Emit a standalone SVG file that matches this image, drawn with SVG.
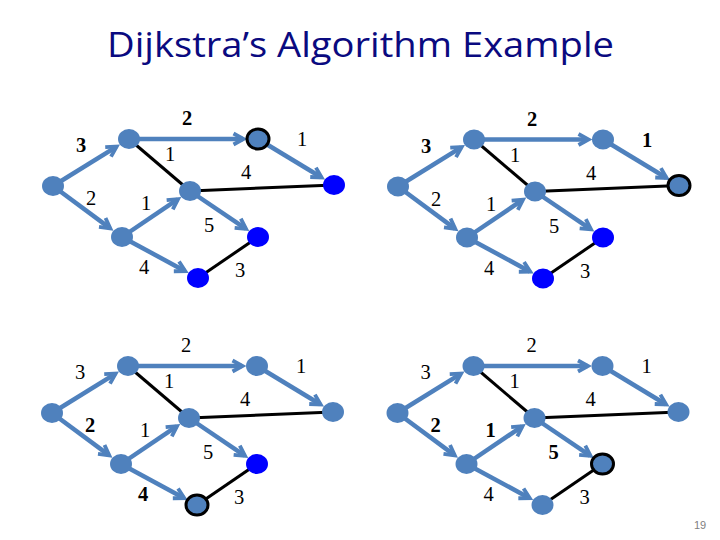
<svg xmlns="http://www.w3.org/2000/svg" width="720" height="540" viewBox="0 0 720 540">
<style>
.e{stroke:#4F81BD;stroke-width:4.5;fill:none;marker-end:url(#ah)}
.k{stroke:#000;stroke-width:3;fill:none}
.n{fill:#4F81BD}
.b{fill:#0000FF}
.o{stroke:#000;stroke-width:3}
.t{font-family:"Liberation Serif","Times New Roman",serif;font-size:20.5px;text-anchor:middle;fill:#000}
.bd{font-weight:bold}
.title{font-family:"Open Sans","Liberation Sans",sans-serif;font-size:35px;fill:#0A0A80}
.pg{font-family:"Liberation Sans",sans-serif;font-size:11px;fill:#808080;text-anchor:middle}
</style>
<defs>
<marker id="ah" markerUnits="userSpaceOnUse" viewBox="0 0 18 18" markerWidth="18" markerHeight="18" refX="11.5" refY="9" orient="auto">
<path d="M2,3.5 L12,9 L2,14.5" fill="none" stroke="#4F81BD" stroke-width="3.8" stroke-linejoin="miter"/>
</marker>
<g id="edges">
<path class="e" d="M53,186 L116.2,146.9"/>
<path class="e" d="M53,186 L109.9,228.1"/>
<path class="e" d="M129,139 L243,139"/>
<path class="e" d="M258,139 L321.2,177.2"/>
<path class="e" d="M122,237 L177.6,199.4"/>
<path class="e" d="M122,237 L184.8,270.9"/>
<path class="e" d="M190,191 L245.6,228.6"/>
<path class="k" d="M129,139 L190,191"/>
<path class="k" d="M190,191 L334,185"/>
<path class="k" d="M198,278 L258,237"/>
</g>
</defs>
<text class="title" x="107" y="57" textLength="507" lengthAdjust="spacingAndGlyphs">Dijkstra’s Algorithm Example</text>

<g id="q1">
<g id="q1-connectors"><use href="#edges"/></g>
<g id="q1-A"><ellipse class="n" cx="53" cy="186" rx="11" ry="10"/></g>
<g id="q1-B"><ellipse class="n" cx="129" cy="139" rx="11" ry="10"/></g>
<g id="q1-C"><ellipse class="n o" cx="258" cy="139" rx="11" ry="10"/></g>
<g id="q1-D"><ellipse class="b" cx="334" cy="185" rx="11" ry="10"/></g>
<g id="q1-E"><ellipse class="n" cx="190" cy="191" rx="11" ry="10"/></g>
<g id="q1-F"><ellipse class="n" cx="122" cy="237" rx="11" ry="10"/></g>
<g id="q1-G"><ellipse class="b" cx="258" cy="237" rx="11" ry="10"/></g>
<g id="q1-H"><ellipse class="b" cx="198" cy="278" rx="11" ry="10"/></g>
<g id="q1-labels">
<text class="t bd" x="81" y="152">3</text>
<text class="t bd" x="187" y="125">2</text>
<text class="t" x="302" y="146">1</text>
<text class="t" x="170" y="161">1</text>
<text class="t" x="246" y="179">4</text>
<text class="t" x="91" y="205">2</text>
<text class="t" x="146" y="210">1</text>
<text class="t" x="209" y="232">5</text>
<text class="t" x="144" y="274">4</text>
<text class="t" x="240" y="277">3</text>
</g>
</g>

<g id="q2" transform="translate(345,0.5)">
<g id="q2-connectors"><use href="#edges"/></g>
<g id="q2-A"><ellipse class="n" cx="53" cy="186" rx="11" ry="10"/></g>
<g id="q2-B"><ellipse class="n" cx="129" cy="139" rx="11" ry="10"/></g>
<g id="q2-C"><ellipse class="n" cx="258" cy="139" rx="11" ry="10"/></g>
<g id="q2-D"><ellipse class="n o" cx="334" cy="185" rx="11" ry="10"/></g>
<g id="q2-E"><ellipse class="n" cx="190" cy="191" rx="11" ry="10"/></g>
<g id="q2-F"><ellipse class="n" cx="122" cy="237" rx="11" ry="10"/></g>
<g id="q2-G"><ellipse class="b" cx="258" cy="237" rx="11" ry="10"/></g>
<g id="q2-H"><ellipse class="b" cx="198" cy="278" rx="11" ry="10"/></g>
<g id="q2-labels">
<text class="t bd" x="81" y="152">3</text>
<text class="t bd" x="187" y="125">2</text>
<text class="t bd" x="302" y="146">1</text>
<text class="t" x="170" y="161">1</text>
<text class="t" x="246" y="179">4</text>
<text class="t" x="91" y="205">2</text>
<text class="t" x="146" y="210">1</text>
<text class="t" x="209" y="232">5</text>
<text class="t" x="144" y="274">4</text>
<text class="t" x="240" y="277">3</text>
</g>
</g>

<g id="q3" transform="translate(-1,227)">
<g id="q3-connectors"><use href="#edges"/></g>
<g id="q3-A"><ellipse class="n" cx="53" cy="186" rx="11" ry="10"/></g>
<g id="q3-B"><ellipse class="n" cx="129" cy="139" rx="11" ry="10"/></g>
<g id="q3-C"><ellipse class="n" cx="258" cy="139" rx="11" ry="10"/></g>
<g id="q3-D"><ellipse class="n" cx="334" cy="185" rx="11" ry="10"/></g>
<g id="q3-E"><ellipse class="n" cx="190" cy="191" rx="11" ry="10"/></g>
<g id="q3-F"><ellipse class="n" cx="122" cy="237" rx="11" ry="10"/></g>
<g id="q3-G"><ellipse class="b" cx="258" cy="237" rx="11" ry="10"/></g>
<g id="q3-H"><ellipse class="n o" cx="198" cy="278" rx="11" ry="10"/></g>
<g id="q3-labels">
<text class="t" x="81" y="152">3</text>
<text class="t" x="187" y="125">2</text>
<text class="t" x="302" y="146">1</text>
<text class="t" x="170" y="161">1</text>
<text class="t" x="246" y="179">4</text>
<text class="t bd" x="91" y="205">2</text>
<text class="t" x="146" y="210">1</text>
<text class="t" x="209" y="232">5</text>
<text class="t bd" x="144" y="274">4</text>
<text class="t" x="240" y="277">3</text>
</g>
</g>

<g id="q4" transform="translate(344.5,227)">
<g id="q4-connectors"><use href="#edges"/></g>
<g id="q4-A"><ellipse class="n" cx="53" cy="186" rx="11" ry="10"/></g>
<g id="q4-B"><ellipse class="n" cx="129" cy="139" rx="11" ry="10"/></g>
<g id="q4-C"><ellipse class="n" cx="258" cy="139" rx="11" ry="10"/></g>
<g id="q4-D"><ellipse class="n" cx="334" cy="185" rx="11" ry="10"/></g>
<g id="q4-E"><ellipse class="n" cx="190" cy="191" rx="11" ry="10"/></g>
<g id="q4-F"><ellipse class="n" cx="122" cy="237" rx="11" ry="10"/></g>
<g id="q4-G"><ellipse class="n o" cx="258" cy="237" rx="11" ry="10"/></g>
<g id="q4-H"><ellipse class="n" cx="198" cy="278" rx="11" ry="10"/></g>
<g id="q4-labels">
<text class="t" x="81" y="152">3</text>
<text class="t" x="187" y="125">2</text>
<text class="t" x="302" y="146">1</text>
<text class="t" x="170" y="161">1</text>
<text class="t" x="246" y="179">4</text>
<text class="t bd" x="91" y="205">2</text>
<text class="t bd" x="146" y="210">1</text>
<text class="t bd" x="209" y="232">5</text>
<text class="t" x="144" y="274">4</text>
<text class="t" x="240" y="277">3</text>
</g>
</g>

<text class="pg" x="700" y="529">19</text>
</svg>
